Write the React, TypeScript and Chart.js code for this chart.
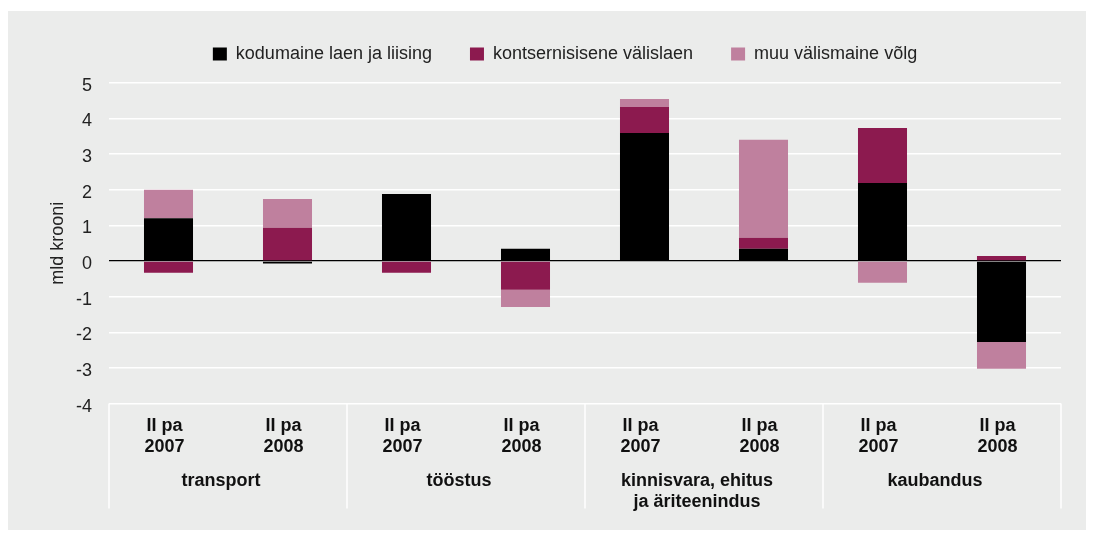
import React, { useEffect, useRef } from 'react';
import { Chart, registerables } from 'chart.js';

Chart.register(...registerables);

const categories = [
  ['II pa', '2007'], ['II pa', '2008'],
  ['II pa', '2007'], ['II pa', '2008'],
  ['II pa', '2007'], ['II pa', '2008'],
  ['II pa', '2007'], ['II pa', '2008'],
];
const groups = ['transport', 'tööstus', ['kinnisvara, ehitus', 'ja äriteenindus'], 'kaubandus'];
const seriesNames = ['kodumaine laen ja liising', 'kontsernisisene välislaen', 'muu välismaine võlg'];
const domestic = [1.2, -0.07, 1.88, 0.34, 3.59, 0.34, 2.19, -2.27];
const intraGroup = [-0.33, 0.93, -0.33, -0.81, 0.73, 0.31, 1.54, 0.14];
const otherForeign = [0.8, 0.81, 0, -0.48, 0.22, 2.75, -0.61, -0.75];
const seriesColors = ['#000000', '#8c1a4f', '#bf809e'];
const yTitle = 'mld krooni';

const FONT = "'Liberation Sans', Arial, Helvetica, sans-serif";

const legendHeightPlugin = {
  id: 'legendHeight',
  beforeInit(chart: any) {
    const legend = chart.legend;
    if (!legend) return;
    const origFit = legend.fit;
    legend.fit = function () {
      origFit.call(this);
      this.height = 75.7;
    };
  },
};

const separatorPlugin = {
  id: 'separators',
  afterDraw(chart: any) {
    const { ctx, chartArea, scales } = chart;
    const x = scales.x;
    const top = chartArea.bottom;
    const bottom = chartArea.bottom + 105;
    const xs: number[] = [chartArea.left];
    for (let g = 1; g < groups.length; g++) {
      xs.push((x.getPixelForValue(2 * g - 1) + x.getPixelForValue(2 * g)) / 2);
    }
    xs.push(chartArea.right);
    ctx.save();
    ctx.strokeStyle = '#ffffff';
    ctx.lineWidth = 1.5;
    for (const px of xs) {
      ctx.beginPath();
      ctx.moveTo(px, top);
      ctx.lineTo(px, bottom);
      ctx.stroke();
    }
    ctx.restore();
  },
};

export default function App() {
  const canvasRef = useRef<HTMLCanvasElement | null>(null);

  useEffect(() => {
    if (!canvasRef.current) return;
    const chart = new Chart(canvasRef.current, {
      type: 'bar',
      data: {
        labels: categories as any,
        datasets: [
          { label: seriesNames[0], data: domestic, backgroundColor: seriesColors[0] },
          { label: seriesNames[1], data: intraGroup, backgroundColor: seriesColors[1] },
          { label: seriesNames[2], data: otherForeign, backgroundColor: seriesColors[2] },
        ],
      },
      options: {
        animation: false,
        responsive: true,
        maintainAspectRatio: false,
        layout: { padding: { left: 62, right: 27, top: -4, bottom: 0 } },
        datasets: { bar: { categoryPercentage: 1, barPercentage: 0.412 } },
        plugins: {
          tooltip: { enabled: false },
          legend: {
            position: 'top',
            labels: {
              boxWidth: 14,
              boxHeight: 13,
              padding: 38,
              color: '#222',
              font: { family: FONT, size: 18 },
            },
          },
        },
        scales: {
          x: {
            stacked: true,
            weight: 0,
            grid: { display: false, drawTicks: false },
            border: { display: false },
            ticks: {
              autoSkip: false,
              maxRotation: 0,
              padding: 12,
              labelOffset: -4,
              color: '#111',
              font: { family: FONT, size: 18, weight: 'bold', lineHeight: 1.15 },
            },
            afterFit: (s: any) => { s.height = 60; },
          },
          xg: {
            type: 'category',
            labels: groups as any,
            position: 'bottom',
            weight: 1,
            offset: true,
            grid: { display: false, drawTicks: false },
            border: { display: false },
            ticks: {
              autoSkip: false,
              maxRotation: 0,
              padding: 7,
              labelOffset: -7,
              color: '#111',
              font: { family: FONT, size: 18, weight: 'bold', lineHeight: 1.15 },
            },
            afterFit: (s: any) => { s.height = 69.4; },
          },
          y: {
            stacked: true,
            min: -4,
            max: 5,
            grid: {
              drawTicks: false,
              color: (c: any) => (c.tick && c.tick.value === 0 ? '#000000' : '#ffffff'),
              lineWidth: (c: any) => (c.tick && c.tick.value === 0 ? 1.3 : 1.5),
            },
            border: { display: false },
            ticks: {
              stepSize: 1,
              padding: 17,
              labelOffset: 3,
              color: '#222',
              font: { family: FONT, size: 18 },
            },
            title: {
              display: true,
              text: yTitle,
              color: '#222',
              padding: { top: -21, bottom: 0 },
              font: { family: FONT, size: 18, lineHeight: 1.15 },
            },
            afterFit: (s: any) => { s.width = 40; },
          },
        },
      } as any,
      plugins: [legendHeightPlugin, separatorPlugin],
    });
    return () => chart.destroy();
  }, []);

  return (
    <div
      style={{
        position: 'relative',
        left: -1,
        top: 3,
        width: 1081,
        height: 522,
        background: '#ebeceb',
      }}
    >
      <canvas ref={canvasRef} />
    </div>
  );
}
